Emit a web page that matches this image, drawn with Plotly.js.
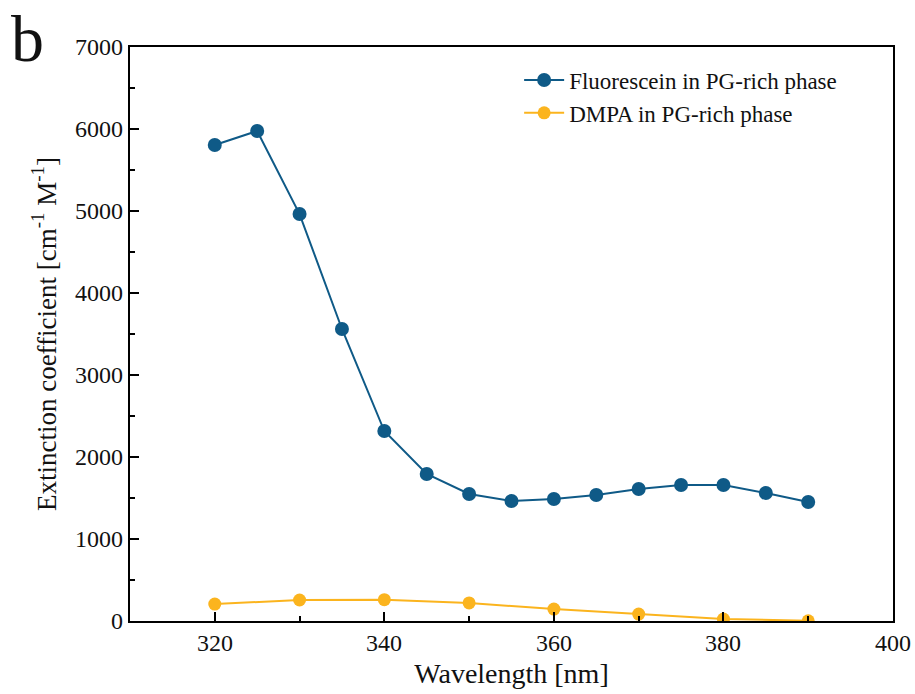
<!DOCTYPE html>
<html><head><meta charset="utf-8">
<script src="https://cdn.plot.ly/plotly-3.0.1.min.js"></script>
<style>body{margin:0;background:#fff}#plot{width:915px;height:694px}</style>
</head><body><div id="plot"></div>
<script>
const wlFluo = [320,325,330,335,340,345,350,355,360,365,370,375,380,385,390];
const epsFluo = [5805,5976,4963,3561,2317,1793,1549,1463,1488,1537,1610,1659,1659,1561,1451];
const wlDmpa = [320,330,340,350,360,370,380,390];
const epsDmpa = [207,256,260,220,146,85,24,3];
const nameFluo = "Fluorescein in PG-rich phase";
const nameDmpa = "DMPA in PG-rich phase";
const xTickVals = [320,340,360,380,400];
const yTickVals = [0,1000,2000,3000,4000,5000,6000,7000];

const FAM = "Liberation Serif";
const TF = {family:FAM,size:24,color:"#111"};
const traces = [
 {x:wlFluo,y:epsFluo,name:nameFluo,mode:"lines+markers",line:{color:"#0f5a87",width:2},marker:{color:"#0f5a87",size:14}},
 {x:wlDmpa,y:epsDmpa,name:nameDmpa,mode:"lines+markers",line:{color:"#fbb41e",width:2},marker:{color:"#fbb41e",size:13}}
];
const tickAnn = [
 ...xTickVals.map(v=>({x:v,xref:"x",y:0,yref:"paper",xanchor:"center",yanchor:"top",yshift:-7,showarrow:false,text:String(v),font:TF})),
 ...yTickVals.map(v=>({x:0,xref:"paper",y:v,yref:"y",xanchor:"right",yanchor:"middle",xshift:-5,showarrow:false,text:String(v),font:TF}))
];
const layout = {
 width:915,height:694,paper_bgcolor:"#fff",plot_bgcolor:"#fff",
 margin:{l:130,r:22,t:47,b:73},
 font:{family:FAM,color:"#111",size:22},
 xaxis:{showgrid:false,zeroline:false,showline:true,linecolor:"#000",linewidth:2,mirror:true,
   ticks:"inside",ticklen:9,tickwidth:2,tickcolor:"#000",showticklabels:false,
   range:[310,400],tickmode:"array",tickvals:xTickVals,
   minor:{ticks:"inside",ticklen:5,tickwidth:2,tickcolor:"#000",tickmode:"linear",tick0:310,dtick:10},
   title:{text:"Wavelength [nm]",font:{family:FAM,size:28,color:"#111"},standoff:41}},
 yaxis:{showgrid:false,zeroline:false,showline:true,linecolor:"#000",linewidth:2,mirror:true,
   ticks:"inside",ticklen:9,tickwidth:2,tickcolor:"#000",showticklabels:false,
   range:[0,7000],tickmode:"array",tickvals:yTickVals,
   minor:{ticks:"inside",ticklen:5,tickwidth:2,tickcolor:"#000",tickmode:"linear",tick0:0,dtick:500},
   title:{text:"Extinction coefficient [cm<sup>-1</sup> M<sup>-1</sup>]",font:{family:FAM,size:27,color:"#111"},standoff:64}},
 legend:{x:0.51,y:0.98,xanchor:"left",yanchor:"top",font:{family:FAM,size:23,color:"#111"},bgcolor:"rgba(0,0,0,0)",itemwidth:40},
 annotations:[...tickAnn,
   {text:"b",xref:"paper",yref:"paper",x:-0.158,y:1.082,xanchor:"left",yanchor:"top",showarrow:false,font:{family:FAM,size:66,color:"#111"}}],
 showlegend:true
};
Plotly.newPlot("plot",traces,layout,{displayModeBar:false});
</script></body></html>
